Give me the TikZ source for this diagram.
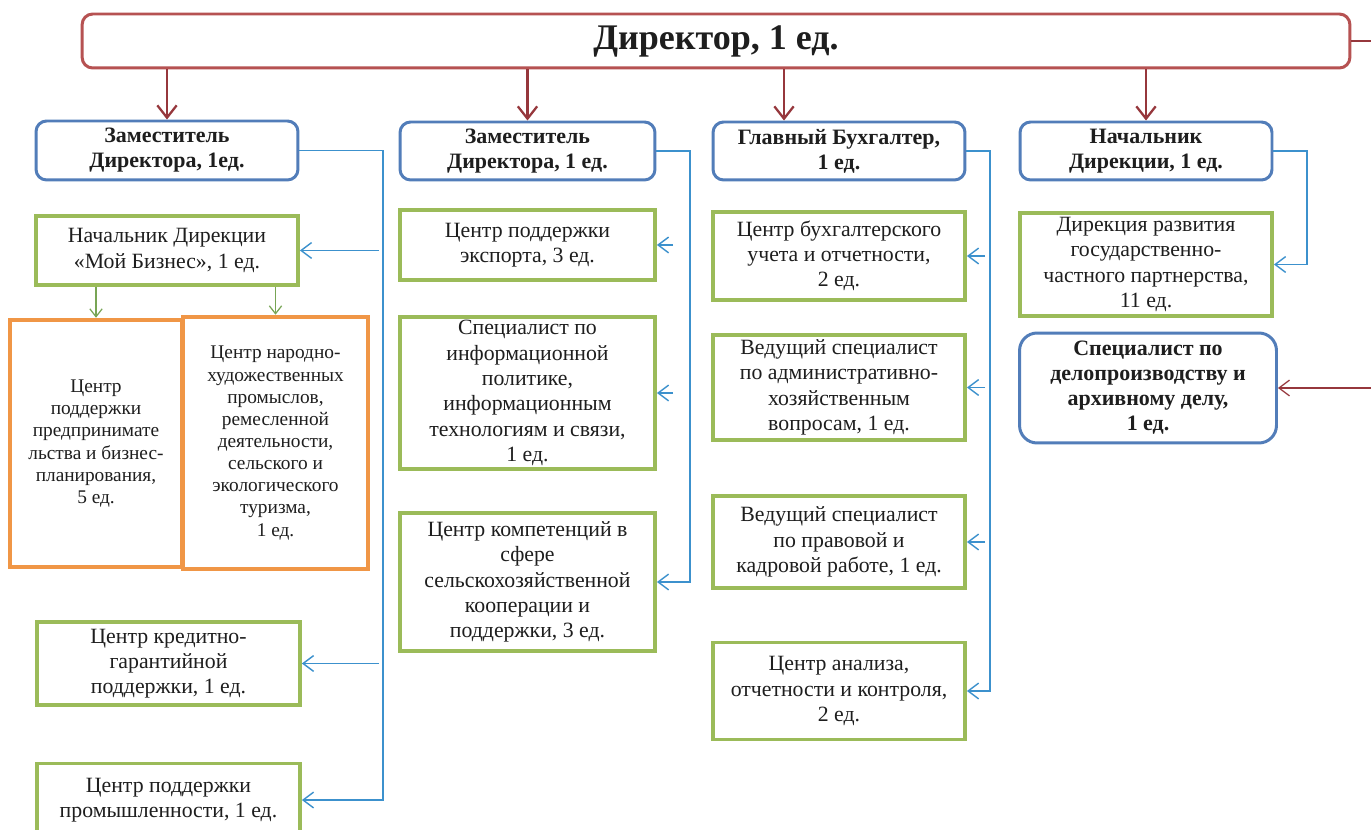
\documentclass[tikz,border=0pt]{standalone}
\usepackage{fontspec}
\setmainfont{Liberation Serif}
\usepackage{tikz}
\usetikzlibrary{arrows.meta}

\definecolor{DirRed}{RGB}{182,82,82}
\definecolor{ArrRed}{RGB}{150,55,60}
\definecolor{HeadBlue}{RGB}{82,125,185}
\definecolor{UnitGreen}{RGB}{155,187,89}
\definecolor{SubOrange}{RGB}{240,150,70}
\definecolor{LinkBlue}{RGB}{60,145,205}
\definecolor{LinkGreen}{RGB}{120,165,85}
\definecolor{TextGray}{RGB}{30,30,30}

\begin{document}
\begin{tikzpicture}[x=0.02cm,y=-0.02cm,
    every node/.style={align=center,text=TextGray,inner sep=2pt},
    dirbox/.style={draw=DirRed,line width=1.7pt,rounded corners=6pt,font=\bfseries\fontsize{20.5}{24}\selectfont},
    headbox/.style={draw=HeadBlue,line width=1.7pt,rounded corners=6pt,font=\bfseries\fontsize{12.5}{14.2}\selectfont},
    unitbox/.style={draw=UnitGreen,line width=2.2pt,font=\fontsize{12.4}{14.4}\selectfont},
    subbox/.style={draw=SubOrange,line width=2.6pt,font=\fontsize{11}{12.6}\selectfont},
    redarr/.style={ArrRed,line width=1.3pt,-{Straight Barb[length=7pt,width=11pt]}},
    redlink/.style={ArrRed,line width=0.7pt,-{Straight Barb[length=6pt,width=9pt]}},
    bluearr/.style={LinkBlue,line width=0.8pt,-{Straight Barb[length=6pt,width=9pt]}},
    greenarr/.style={LinkGreen,line width=0.7pt,-{Straight Barb[length=4.5pt,width=7pt]}}]
    \path[use as bounding box,fill=white] (0,0) rectangle (1371,830);
    \clip (0,0) rectangle (1371,830);

    % director
    \node[dirbox,minimum width=25.36cm,minimum height=1.08cm] (dir) at (716,41) {Директор, 1 ед.};

    % heads
    \node[headbox,minimum width=5.24cm,minimum height=1.18cm] (head1) at (167,150.5) {Заместитель\\Директора, 1ед.};
    \node[headbox,minimum width=5.10cm,minimum height=1.16cm] (head2) at (527.5,151) {Заместитель\\Директора, 1 ед.};
    \node[headbox,minimum width=5.04cm,minimum height=1.16cm] (head3) at (839,151) {Главный Бухгалтер,\\1 ед.};
    \node[headbox,minimum width=5.04cm,minimum height=1.16cm] (head4) at (1146,151) {Начальник\\Дирекции, 1 ед.};

    % first column
    \node[unitbox,minimum width=5.24cm,minimum height=1.38cm] (nach) at (167,250.5) {Начальник Дирекции\\«Мой Бизнес», 1 ед.};
    \node[subbox,minimum width=3.44cm,minimum height=4.94cm] (cpp) at (96,443.5) {Центр\\поддержки\\предпринимате\\льства и бизнес-\\планирования,\\5 ед.};
    \node[subbox,minimum width=3.70cm,minimum height=5.04cm] (cnh) at (275.5,443) {Центр народно-\\художественных\\промыслов,\\ремесленной\\деятельности,\\сельского и\\экологического\\туризма,\\1 ед.};
    \node[unitbox,minimum width=5.26cm,minimum height=1.66cm] (kred) at (168.5,663.5) {Центр кредитно-\\гарантийной\\поддержки, 1 ед.};
    \node[unitbox,minimum width=5.26cm,minimum height=1.46cm] (prom) at (168.5,800) {Центр поддержки\\промышленности,  1 ед.};

    % second column
    \node[unitbox,minimum width=5.10cm,minimum height=1.40cm] (exp) at (527.5,245) {Центр поддержки\\экспорта, 3 ед.};
    \node[unitbox,minimum width=5.10cm,minimum height=3.00cm] (inf) at (527.5,393) {Специалист по\\информационной\\политике,\\информационным\\технологиям и связи,\\1 ед.};
    \node[unitbox,minimum width=5.10cm,minimum height=2.76cm] (komp) at (527.5,582) {Центр компетенций в\\сфере\\сельскохозяйственной\\кооперации  и\\поддержки, 3 ед.};

    % third column
    \node[unitbox,minimum width=5.04cm,minimum height=1.76cm] (buh) at (839,256) {Центр бухгалтерского\\учета и отчетности,\\2 ед.};
    \node[unitbox,minimum width=5.04cm,minimum height=2.10cm] (adm) at (839,387.5) {Ведущий специалист\\по административно-\\хозяйственным\\вопросам, 1 ед.};
    \node[unitbox,minimum width=5.04cm,minimum height=1.84cm] (prav) at (839,542) {Ведущий специалист\\по правовой и\\кадровой работе, 1 ед.};
    \node[unitbox,minimum width=5.04cm,minimum height=1.94cm] (anal) at (839,691) {Центр анализа,\\отчетности и контроля,\\2 ед.};

    % fourth column
    \node[unitbox,minimum width=5.04cm,minimum height=2.06cm] (gchp) at (1146,264.5) {Дирекция  развития\\государственно-\\частного партнерства,\\11 ед.};
    \node[headbox,rounded corners=10pt,minimum width=5.14cm,minimum height=2.20cm] (spec) at (1148,388) {Специалист по\\делопроизводству и\\архивному делу,\\1 ед.};

    % red arrows from director
    \coordinate (a3) at (784,0);
    \draw[redarr] (dir.south -| head1.north) -- (head1.north);
    \draw[redarr] (dir.south -| head2.north) -- (head2.north);
    \draw[redarr] (dir.south -| a3) -- (head3.north -| a3);
    \draw[redarr] (dir.south -| head4.north) -- (head4.north);
    \coordinate (c5) at (1380,0);
    \draw[redlink] (dir.east) -| (c5 |- spec.east) -- (spec.east);

    % blue links
    \coordinate (c1) at (383,0);
    \coordinate (s1) at (379,0);
    \draw[bluearr] (head1.east) -| (c1 |- prom.east) -- (prom.east);
    \draw[bluearr] (s1 |- nach.east) -- (nach.east);
    \draw[bluearr] (s1 |- kred.east) -- (kred.east);

    \coordinate (c2) at (690,0);
    \coordinate (s2) at (673,0);
    \draw[bluearr] (head2.east) -| (c2 |- komp.east) -- (komp.east);
    \draw[bluearr] (s2 |- exp.east) -- (exp.east);
    \draw[bluearr] (s2 |- inf.east) -- (inf.east);

    \coordinate (c3) at (990,0);
    \coordinate (s3) at (985,0);
    \draw[bluearr] (head3.east) -| (c3 |- anal.east) -- (anal.east);
    \draw[bluearr] (s3 |- buh.east) -- (buh.east);
    \draw[bluearr] (s3 |- adm.east) -- (adm.east);
    \draw[bluearr] (s3 |- prav.east) -- (prav.east);

    \coordinate (c4) at (1307,0);
    \draw[bluearr] (head4.east) -| (c4 |- gchp.east) -- (gchp.east);

    % green arrows
    \draw[greenarr] (cpp.north |- nach.south) -- (cpp.north);
    \draw[greenarr] (cnh.north |- nach.south) -- (cnh.north);
\end{tikzpicture}
\end{document}
